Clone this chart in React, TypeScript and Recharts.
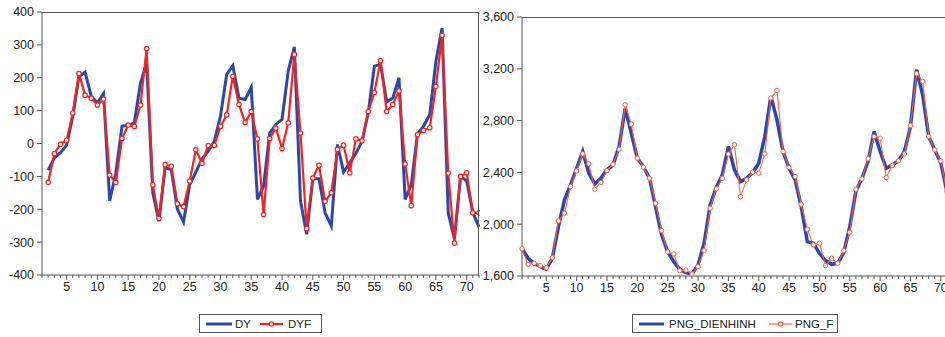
import { LineChart, Line, XAxis, YAxis } from 'recharts';

const dyX = [2, 3, 4, 5, 6, 7, 8, 9, 10, 11, 12, 13, 14, 15, 16, 17, 18, 19, 20, 21, 22, 23, 24, 25, 26, 27, 28, 29, 30, 31, 32, 33, 34, 35, 36, 37, 38, 39, 40, 41, 42, 43, 44, 45, 46, 47, 48, 49, 50, 51, 52, 53, 54, 55, 56, 57, 58, 59, 60, 61, 62, 63, 64, 65, 66, 67, 68, 69, 70, 71, 72];
const dy = [-81, -44, -28, -5, 83, 203, 217, 144, 124, 152, -175, -89, 53, 55, 63, 184, 245, -150, -236, -74, -79, -200, -239, -125, -87, -47, -23, 7, 83, 210, 237, 138, 134, 171, -170, -130, 32, 58, 73, 220, 294, -175, -276, -107, -107, -211, -251, -3, -87, -59, -30, 7, 93, 235, 242, 126, 138, 200, -170, -125, 29, 53, 88, 250, 351, -211, -290, -99, -114, -211, -254];
const dyf = [-118, -31, -2, 10, 93, 213, 147, 138, 117, 135, -96, -118, 15, 56, 52, 117, 289, -126, -228, -64, -69, -183, -192, -114, -19, -60, -6, -6, 52, 87, 204, 119, 64, 97, 14, -216, 15, 47, -15, 63, 271, 32, -259, -105, -66, -176, -150, -18, -5, -89, 14, 8, 97, 155, 252, 97, 119, 160, -62, -189, 27, 40, 48, 174, 329, -90, -303, -100, -89, -211, -211];

const pngX = [1, 2, 3, 4, 5, 6, 7, 8, 9, 10, 11, 12, 13, 14, 15, 16, 17, 18, 19, 20, 21, 22, 23, 24, 25, 26, 27, 28, 29, 30, 31, 32, 33, 34, 35, 36, 37, 38, 39, 40, 41, 42, 43, 44, 45, 46, 47, 48, 49, 50, 51, 52, 53, 54, 55, 56, 57, 58, 59, 60, 61, 62, 63, 64, 65, 66, 67, 68, 69, 70, 71];
const pngDienHinh = [1814, 1737, 1698, 1672, 1652, 1737, 1981, 2188, 2304, 2432, 2561, 2394, 2311, 2355, 2420, 2458, 2600, 2896, 2703, 2510, 2445, 2355, 2136, 1917, 1788, 1711, 1652, 1626, 1615, 1685, 1853, 2149, 2283, 2381, 2600, 2420, 2329, 2355, 2399, 2471, 2677, 2987, 2806, 2561, 2432, 2342, 2136, 1865, 1853, 1775, 1719, 1690, 1698, 1780, 1981, 2252, 2355, 2484, 2716, 2561, 2432, 2458, 2489, 2561, 2755, 3193, 2999, 2677, 2574, 2471, 2252];
const pngF = [1810, 1690, 1698, 1680, 1664, 1742, 2025, 2085, 2291, 2412, 2543, 2466, 2270, 2322, 2414, 2463, 2579, 2922, 2773, 2510, 2440, 2355, 2162, 1951, 1786, 1770, 1641, 1646, 1615, 1672, 1796, 2124, 2273, 2355, 2541, 2613, 2213, 2342, 2402, 2394, 2543, 2974, 3033, 2561, 2438, 2368, 2154, 1961, 1840, 1853, 1680, 1737, 1698, 1796, 1938, 2270, 2350, 2505, 2677, 2664, 2360, 2453, 2489, 2543, 2762, 3162, 3103, 2677, 2574, 2489, 2252];

const majorTicks = [5, 10, 15, 20, 25, 30, 35, 40, 45, 50, 55, 60, 65, 70];
const allTicks = Array.from({ length: 72 }, (_, i) => i + 1);
const dyTicks = [-400, -300, -200, -100, 0, 100, 200, 300, 400];
const pngTicks = [1600, 2000, 2400, 2800, 3200, 3600];

const dyData = dyX.map((x, i) => ({ x, dy: dy[i], dyf: dyf[i] }));
const pngData = pngX.map((x, i) => ({ x, a: pngDienHinh[i], f: pngF[i] }));

const BLUE = '#2c48a4';
const RED = '#f02424';
const RED2 = '#ff5f45';
const AXIS = '#555';
const FONT = '"Liberation Sans", Arial, sans-serif';

function XTick(props: any) {
  const { x, y, payload } = props;
  const major = majorTicks.includes(payload.value);
  return (
    <g>
      <line x1={x} x2={x} y1={y} y2={y + (major ? 5 : 3)} stroke={AXIS} strokeWidth={1} />
      {major && (
        <text x={x} y={y + 16} textAnchor="middle" fontSize={12.5} fill="#222" fontFamily={FONT}>
          {payload.value}
        </text>
      )}
    </g>
  );
}

const yTickStyle = { fontSize: 12.5, fill: '#222', fontFamily: FONT };

// legend sample line, placed absolutely inside a legend box
function Sample({ left, w, color, width, dot }: { left: number; w: number; color: string; width: number; dot?: boolean }) {
  return (
    <svg width={w} height={10} style={{ position: 'absolute', left, top: 4 }}>
      <line x1={0} x2={w} y1={5} y2={5} stroke={color} strokeWidth={width} />
      {dot && <circle cx={w / 2} cy={5} r={2.2} fill="#fff" stroke={color} strokeWidth={1.2} />}
    </svg>
  );
}

function Label({ left, text }: { left: number; text: string }) {
  return (
    <span style={{ position: 'absolute', left, top: 2, fontSize: 11.5, lineHeight: '14px', color: '#222', whiteSpace: 'nowrap' }}>
      {text}
    </span>
  );
}

const boxStyle = (left: number, width: number) => ({
  position: 'absolute' as const,
  left,
  top: 314,
  width,
  height: 19,
  border: `1px solid ${AXIS}`,
  boxSizing: 'border-box' as const,
});

export default function App() {
  return (
    <div
      style={{
        position: 'absolute',
        left: 0,
        top: 0,
        width: 945,
        height: 337,
        overflow: 'hidden',
        background: '#fff',
        fontFamily: FONT,
      }}
    >
      <div style={{ position: 'absolute', left: 0, top: 0 }}>
        <LineChart width={480} height={300} data={dyData} margin={{ top: 12, right: 1, left: 0, bottom: 0 }}>
          <XAxis
            dataKey="x"
            type="number"
            domain={[1, 72]}
            ticks={allTicks}
            interval={0}
            tick={<XTick />}
            tickLine={false}
            tickSize={0}
            tickMargin={0}
            height={25}
            stroke={AXIS}
          />
          <YAxis
            type="number"
            domain={[-400, 400]}
            ticks={dyTicks}
            interval={0}
            width={42}
            tickSize={5}
            tickMargin={3}
            tick={yTickStyle}
            stroke={AXIS}
          />
          <Line dataKey="dy" stroke={BLUE} strokeWidth={3} dot={false} isAnimationActive={false} />
          <Line
            dataKey="dyf"
            stroke={RED}
            strokeWidth={2.2}
            dot={{ r: 2.2, fill: '#fff', stroke: RED, strokeWidth: 1.2 }}
            isAnimationActive={false}
          />
        </LineChart>
        <div
          style={{
            position: 'absolute',
            left: 42,
            top: 12,
            width: 436,
            height: 263,
            borderTop: `1px solid ${AXIS}`,
            borderRight: `1px solid ${AXIS}`,
            pointerEvents: 'none',
          }}
        />
      </div>

      <div style={{ position: 'absolute', left: 470, top: 0 }}>
        <LineChart width={483} height={301} data={pngData} margin={{ top: 17, right: 0, left: 0, bottom: 0 }}>
          <XAxis
            dataKey="x"
            type="number"
            domain={[1, 72]}
            ticks={allTicks}
            interval={0}
            tick={<XTick />}
            tickLine={false}
            tickSize={0}
            tickMargin={0}
            height={25}
            stroke={AXIS}
          />
          <YAxis
            type="number"
            domain={[1600, 3600]}
            ticks={pngTicks}
            interval={0}
            width={52}
            tickSize={5}
            tickMargin={3}
            tick={yTickStyle}
            tickFormatter={(v: number) => v.toLocaleString('en-US')}
            stroke={AXIS}
          />
          <Line dataKey="a" stroke={BLUE} strokeWidth={3.5} dot={false} isAnimationActive={false} />
          <Line
            dataKey="f"
            stroke={RED2}
            strokeWidth={1.1}
            dot={{ r: 2.2, fill: '#fff', stroke: RED2, strokeWidth: 1 }}
            isAnimationActive={false}
          />
        </LineChart>
        <div
          style={{
            position: 'absolute',
            left: 52,
            top: 17,
            width: 440,
            height: 259,
            borderTop: `1px solid ${AXIS}`,
            pointerEvents: 'none',
          }}
        />
      </div>

      <div style={boxStyle(199, 123)}>
        <Sample left={6} w={26} color={BLUE} width={3} />
        <Label left={35} text="DY" />
        <Sample left={60} w={23} color={RED} width={2.2} dot />
        <Label left={88} text="DYF" />
      </div>

      <div style={boxStyle(632, 206)}>
        <Sample left={6} w={25} color={BLUE} width={3} />
        <Label left={36} text="PNG_DIENHINH" />
        <Sample left={136} w={23} color={RED2} width={1.1} dot />
        <Label left={162} text="PNG_F" />
      </div>
    </div>
  );
}
